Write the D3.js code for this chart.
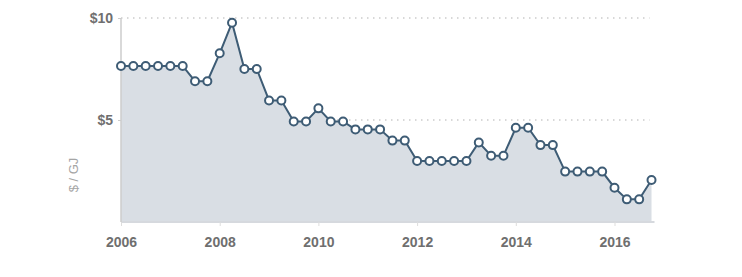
<!DOCTYPE html>
<html>
<head>
<meta charset="utf-8">
<script src="https://cdn.jsdelivr.net/npm/d3@7"></script>
<style>
  body { margin: 0; background: #fff; }
  svg text { font-family: "Liberation Sans", Arial, sans-serif; }
</style>
</head>
<body>
<script>
// quarterly price, 2006 Q1 .. 2016 Q4
const startYear = 2006;
const prices = [
  7.65, 7.65, 7.65, 7.65, 7.65, 7.65, 6.9, 6.9,
  8.27, 9.77, 7.5, 7.5, 5.96, 5.96, 4.93, 4.93,
  5.57, 4.93, 4.93, 4.54, 4.54, 4.54, 3.99, 3.99,
  2.99, 2.99, 2.99, 2.99, 2.99, 3.9, 3.25, 3.25,
  4.62, 4.62, 3.77, 3.77, 2.47, 2.47, 2.47, 2.47,
  1.68, 1.11, 1.11, 2.06
];
const xTicks = [2006, 2008, 2010, 2012, 2014, 2016];
const yTicks = [5, 10];
const yTickLabels = ['$5', '$10'];
const yLabel = '$ / GJ';

const data = prices.map((v, i) => ({ t: startYear + i * 0.25, v: v }));

const W = 742, H = 277;
const svg = d3.select('body').append('svg').attr('width', W).attr('height', H);

const x = d3.scaleLinear().domain([2006, 2016]).range([121, 614.5]);
const y = d3.scaleLinear().domain([0, 10]).range([222, 18]);
const xEnd = x(2016.75);

// grid lines
svg.append('g').selectAll('line').data(yTicks).enter().append('line')
  .attr('x1', x(2006)).attr('x2', xEnd - 2)
  .attr('y1', d => y(d)).attr('y2', d => y(d))
  .attr('stroke', '#ccc').attr('stroke-width', 1.5)
  .attr('stroke-dasharray', '1.5,4.5');

// area + line
const area = d3.area().x(d => x(d.t)).y0(y(0)).y1(d => y(d.v));
const line = d3.line().x(d => x(d.t)).y(d => y(d.v));
svg.append('path').datum(data).attr('d', area).attr('fill', '#d9dee4');
svg.append('path').datum(data).attr('d', line)
  .attr('fill', 'none').attr('stroke', '#3e5c75').attr('stroke-width', 2);

// axes
const xAxis = d3.axisBottom(x).tickValues(xTicks).tickFormat(d3.format('d')).tickSize(4).tickPadding(11);
const xAxisG = svg.append('g').attr('transform', `translate(0,${y(0)})`).call(xAxis);
xAxisG.select('.domain').attr('d', `M${x(2006)},0H${xEnd + 3}`).attr('stroke', '#d6d9de').attr('stroke-width', 2);
xAxisG.selectAll('.tick line').attr('stroke', '#ddd');
xAxisG.selectAll('text').attr('fill', '#6f6f6f').attr('font-size', 14).attr('font-weight', 'bold');

const yAxis = d3.axisLeft(y).tickValues(yTicks).tickFormat((d, i) => yTickLabels[i]).tickSize(3).tickPadding(5);
const yAxisG = svg.append('g').attr('transform', `translate(${x(2006)},0)`).call(yAxis);
yAxisG.select('.domain').attr('d', `M0,${y(10)}V${y(0)}`).attr('stroke', '#ccc').attr('stroke-width', 1.5);
yAxisG.selectAll('.tick line').attr('stroke', '#ccc');
yAxisG.selectAll('text').attr('fill', '#6f6f6f').attr('font-size', 14).attr('font-weight', 'bold');

svg.append('text').text(yLabel)
  .attr('transform', `translate(78,175) rotate(-90)`)
  .attr('text-anchor', 'middle').attr('fill', '#a5a5a5').attr('font-size', 13);

// markers
svg.append('g').selectAll('circle').data(data).enter().append('circle')
  .attr('cx', d => x(d.t)).attr('cy', d => y(d.v)).attr('r', 4)
  .attr('fill', '#fff').attr('stroke', '#3e5c75').attr('stroke-width', 2);
</script>
</body>
</html>
